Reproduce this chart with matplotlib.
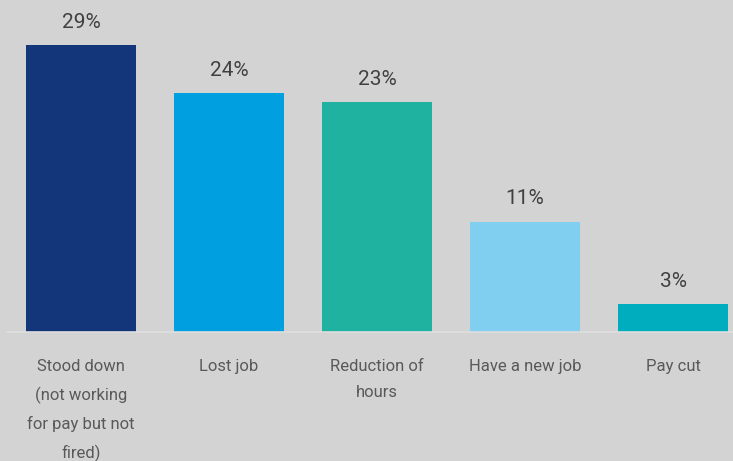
import matplotlib
matplotlib.use('Agg')
import matplotlib.pyplot as plt

categories = ['Stood down\n(not working\nfor pay but not\nfired)', 'Lost job',
              'Reduction of\nhours', 'Have a new job', 'Pay cut']
values = [28.8, 24.0, 23.1, 11.1, 2.8]
colors = ['#13357a', '#00a0e0', '#20b2a0', '#80cff0', '#00adbe']

plt.rcParams['font.family'] = ['Roboto', 'DejaVu Sans']

bg = '#d3d3d3'
fig = plt.figure(figsize=(7.33, 4.61), dpi=100, facecolor=bg)
ax = fig.add_axes([7 / 733, 129 / 461, 726 / 733, 332 / 461], facecolor=bg)

x = list(range(len(categories)))
bars = ax.bar(x, values, width=0.74, color=colors, zorder=2)

# value labels above bars
for bar, v in zip(bars, values):
    ax.annotate(f'{v:.0f}%', (bar.get_x() + bar.get_width() / 2, bar.get_height()),
                xytext=(0, 16.5), textcoords='offset points', ha='center', va='center',
                fontsize=15, color='#404040')

ax.set_xlim(-0.5, 4.405)
ax.set_ylim(0, 33.37)
ax.set_xticks(x)
ax.set_xticklabels(categories, fontsize=12, color='#595959', linespacing=1.94)
ax.tick_params(axis='x', length=0, pad=19.5)
ax.set_yticks([])
for side in ['top', 'right', 'left']:
    ax.spines[side].set_visible(False)
ax.spines['bottom'].set_color('#dedede')
ax.spines['bottom'].set_linewidth(1.2)
ax.spines['bottom'].set_zorder(3)

fig.savefig('out.png', dpi=100, facecolor=bg)
